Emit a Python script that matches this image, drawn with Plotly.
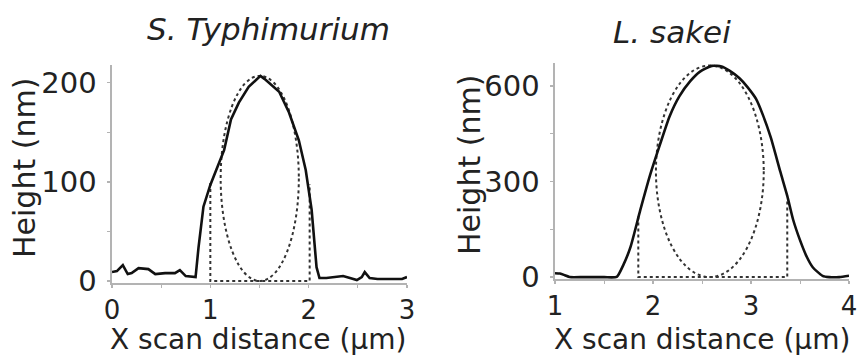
import plotly.graph_objects as go

# ---------------- data ----------------
# S. Typhimurium height profile (solid)
st_x = [0.0, 0.05, 0.11, 0.16, 0.2, 0.27, 0.37, 0.44, 0.54, 0.64, 0.69, 0.75, 0.85, 0.88,
        0.93, 1.0, 1.06, 1.14, 1.21, 1.29, 1.39, 1.46, 1.51, 1.55, 1.6, 1.7, 1.8, 1.9,
        1.97, 2.03, 2.08, 2.11, 2.18, 2.25, 2.35, 2.42, 2.49, 2.54, 2.57, 2.62, 2.7,
        2.86, 2.95, 3.0]
st_y = [9, 10, 16, 7, 8, 13, 12, 7, 8, 8, 11, 5, 4, 34,
        75, 97, 112, 132, 163, 180, 196, 202, 207, 204, 200, 191, 170, 142,
        112, 72, 14, 3, 3, 4, 5, 3, 1, 4, 9, 3, 2,
        2, 2, 4]
# S. Typhimurium fitted width markers (dotted)
st_box_x = [1.0, 1.0, 2.01, 2.01]
st_box_y = [99, 0, 0, 98]
# S. Typhimurium fitted ellipse bounding box (x0, x1, y0, y1)
st_ellipse = [1.105, 1.90, 0, 207]

# L. sakei height profile (solid)
ls_x = [1.0, 1.05, 1.1, 1.15, 1.3, 1.5, 1.63, 1.7, 1.77, 1.87, 1.97, 2.07, 2.17, 2.27,
        2.38, 2.48, 2.6, 2.7, 2.78, 2.88, 2.96, 3.05, 3.12, 3.2, 3.3, 3.37, 3.43, 3.5,
        3.57, 3.63, 3.73, 3.8, 3.9, 4.0]
ls_y = [12, 11, 6, 0, 0, 0, 1, 40, 94, 210, 320, 415, 505, 568,
        615, 645, 663, 661, 648, 625, 598, 560, 510, 440, 330, 255, 180, 116,
        63, 31, 4, 0, 0, 4]
# L. sakei fitted width markers (dotted)
ls_box_x = [1.85, 1.85, 3.37, 3.37]
ls_box_y = [190, 0, 0, 240]
# L. sakei fitted ellipse bounding box (x0, x1, y0, y1)
ls_ellipse = [2.03, 3.13, 0, 664]

titles = ["S. Typhimurium", "L. sakei"]
x_title = "X scan distance (\u03bcm)"
y_title = "Height (nm)"
left_xticks = [0, 1, 2, 3]
left_yticks = [0, 100, 200]
right_xticks = [1, 2, 3, 4]
right_yticks = [0, 300, 600]

# ---------------- figure ----------------
W, H = 865, 355
FONT = "DejaVu Sans"
SOLID = "#111111"
DOT = "#333333"
AXIS = "#b3b3b3"

fig = go.Figure()

fig.add_trace(go.Scatter(x=st_box_x, y=st_box_y, mode="lines", xaxis="x", yaxis="y",
                         line=dict(color=DOT, width=2, dash="dot"), hoverinfo="skip"))
fig.add_trace(go.Scatter(x=st_x, y=st_y, mode="lines", xaxis="x", yaxis="y",
                         line=dict(color=SOLID, width=2.6), hoverinfo="skip"))
fig.add_trace(go.Scatter(x=ls_box_x, y=ls_box_y, mode="lines", xaxis="x2", yaxis="y2",
                         line=dict(color=DOT, width=2, dash="dot"), hoverinfo="skip"))
fig.add_trace(go.Scatter(x=ls_x, y=ls_y, mode="lines", xaxis="x2", yaxis="y2",
                         line=dict(color=SOLID, width=2.6, shape="spline", smoothing=0.6),
                         hoverinfo="skip"))

for (x0, x1, y0, y1), xr, yr in [(st_ellipse, "x", "y"), (ls_ellipse, "x2", "y2")]:
    fig.add_shape(type="circle", xref=xr, yref=yr, x0=x0, x1=x1, y0=y0, y1=y1,
                  line=dict(color=DOT, width=2, dash="dot"), layer="below")


def px_x(p):
    return p / W


def px_y(p):
    return 1 - p / H


common_axis = dict(
    showline=True, linecolor=AXIS, linewidth=1.6, showgrid=False, zeroline=False,
    ticks="outside", ticklen=3, tickwidth=1.2, tickcolor=AXIS, automargin=False,
    tickfont=dict(family=FONT, size=26, color="#222222"),
    minor=dict(ticks="outside", ticklen=3, tickwidth=1, tickcolor=AXIS),
    fixedrange=True,
)

fig.update_layout(
    template="none",
    width=W, height=H, margin=dict(l=0, r=0, t=0, b=0, autoexpand=False),
    paper_bgcolor="white", plot_bgcolor="white", showlegend=False,
    font=dict(family=FONT, color="#222222"),
    xaxis=dict(common_axis, domain=[px_x(112), px_x(407)], range=[0, 3],
               tickvals=left_xticks, anchor="y", minor=dict(common_axis["minor"], dtick=0.5)),
    yaxis=dict(common_axis, domain=[px_y(283), px_y(65)], range=[-2, 218],
               tickvals=left_yticks, anchor="x", ticklabelstandoff=5,
               tickfont=dict(family=FONT, size=29, color="#222222"),
               minor=dict(common_axis["minor"], dtick=50)),
    xaxis2=dict(common_axis, domain=[px_x(555), px_x(849)], range=[1, 4],
                tickvals=right_xticks, anchor="y2", minor=dict(common_axis["minor"], dtick=0.5)),
    yaxis2=dict(common_axis, domain=[px_y(279), px_y(63)], range=[-6, 672],
                tickvals=right_yticks, anchor="x2", ticklabelstandoff=5,
                tickfont=dict(family=FONT, size=29, color="#222222"),
                minor=dict(common_axis["minor"], dtick=150)),
)

ann = []
# plot titles
ann.append(dict(text="<i>" + titles[0] + "</i>", x=px_x(268), y=px_y(28.5)))
ann.append(dict(text="<i>" + titles[1] + "</i>", x=px_x(672), y=px_y(32.5)))
for a in ann:
    a.update(font=dict(family=FONT, size=31, color="#222222"))
# axis titles
for cx in (258, 702):
    ann.append(dict(text=x_title, x=px_x(cx), y=px_y(339),
                    font=dict(family=FONT, size=28, color="#222222")))
for cx, cy in ((24, 168), (469, 165)):
    ann.append(dict(text=y_title, x=px_x(cx), y=px_y(cy), textangle=-90,
                    font=dict(family=FONT, size=30, color="#222222")))
for a in ann:
    a.update(xref="paper", yref="paper", xanchor="center", yanchor="middle",
             showarrow=False, borderpad=0)
fig.update_layout(annotations=ann)

fig.write_html("out.html", config={"displayModeBar": False, "staticPlot": True})
